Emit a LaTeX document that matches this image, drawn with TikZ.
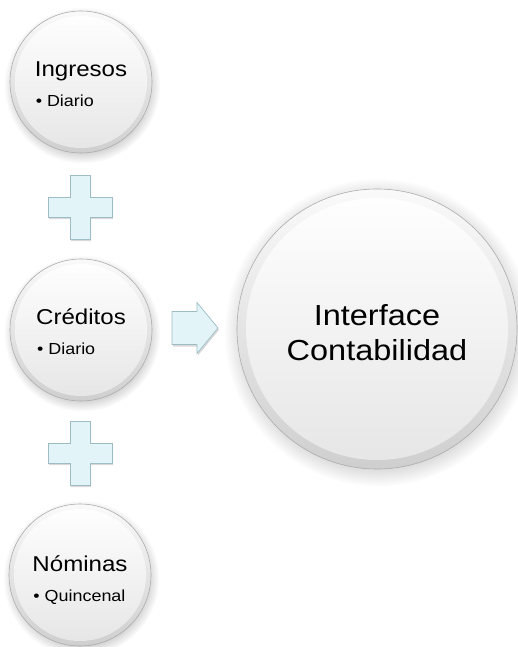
\documentclass[tikz,border=0pt]{standalone}
\usepackage{fontspec}
\setmainfont[FakeStretch=1.12]{Liberation Sans}
\usetikzlibrary{shadows}
\definecolor{plusfill}{HTML}{E2F4F8}
\definecolor{plusdraw}{HTML}{9DBCC3}
\tikzset{
  btn/.style 2 args={circle, inner sep=0pt, minimum size=#1,
    draw=gray!65, line width=0.6pt,
    top color=gray!4, bottom color=gray!38,
    circular drop shadow={shadow xshift=1pt, shadow yshift=-3pt, opacity=0.35},
    path picture={\shade[top color=white, bottom color=gray!20]
      (path picture bounding box.center) circle[radius=#2];}},
  btntext/.style={align=left, text=black, inner sep=0pt, font=\fontsize{21.5}{24}\selectfont},
  bigtext/.style={align=center, text=black, inner sep=0pt, font=\fontsize{29}{35}\selectfont},
  plusshape/.style={fill=plusfill, draw=plusdraw, line width=0.7pt, line join=miter,
    drop shadow={shadow xshift=1pt, shadow yshift=-2pt, opacity=0.3}},
}
\newcommand{\subline}[1]{{\fontsize{16}{19}\selectfont\hspace{1pt}#1}}
\begin{document}
\begin{tikzpicture}[x=1pt,y=-1pt]
\useasboundingbox (0,0) rectangle (518,647);
\node[btn={142pt}{66pt}] (ing) at (81,82) {};
\node[btn={142pt}{66pt}] (cre) at (81,330) {};
\node[btn={142pt}{66pt}] (nom) at (80,575) {};
\node[btn={280pt}{131pt}] (int) at (377,329) {};
\node[btntext] (ingt) at ([yshift=-2pt]ing.center) {Ingresos\\[6pt]\subline{• Diario}};
\node[btntext] (cret) at ([yshift=-2pt]cre.center) {Créditos\\[6pt]\subline{• Diario}};
\node[btntext] (nomt) at ([yshift=-5pt]nom.center) {Nóminas\\[6pt]\subline{• Quincenal}};
\node[bigtext] (intt) at ([yshift=-4pt]int.center) {Interface\\Contabilidad};
\coordinate (p1) at (80,207);
\coordinate (p2) at (80,453);
\coordinate (arr) at (195,328);
\foreach \p in {p1,p2}{
  \draw[plusshape, shift={(\p)}] (-10,-32) -- (10,-32) -- (10,-10) -- (32,-10) -- (32,10) -- (10,10)
    -- (10,32) -- (-10,32) -- (-10,10) -- (-32,10) -- (-32,-10) -- (-10,-10) -- cycle;
}
\draw[plusshape, shift={(arr)}] (-23,-16.5) -- (2,-16.5) -- (2,-25.5) -- (23,0) -- (2,25.5) -- (2,16.5) -- (-23,16.5) -- cycle;
\end{tikzpicture}
\end{document}
